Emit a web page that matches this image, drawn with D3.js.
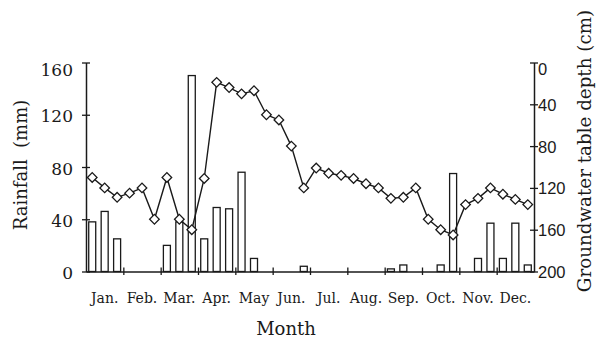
<!DOCTYPE html>
<html>
<head>
<meta charset="utf-8">
<script src="https://cdn.jsdelivr.net/npm/d3@7"></script>
<style>
  html, body { margin: 0; padding: 0; background: #fff; }
  svg { display: block; }
</style>
</head>
<body>
<script>
// Ten-day (dekad) rainfall totals, mm — three per month
const rainfall = [
  38, 46, 25,   0, 0, 0,    20, 38, 150,  25, 49, 48,
  76, 10, 0,    0, 0, 4,    0, 0, 0,      0, 0, 0,
  2, 5, 0,      0, 5, 75,   0, 10, 37,    10, 37, 5
];
// Groundwater table depth below surface, cm — one reading per dekad
const depth = [
  110, 120, 129, 125, 120, 150, 110, 150, 160,
  111, 19, 24, 30, 27, 50, 55, 80, 120,
  101, 106, 108, 111, 116, 120, 130, 129, 120,
  150, 160, 165, 136, 130, 120, 126, 131, 136
];
const months = ["Jan.", "Feb.", "Mar.", "Apr.", "May", "Jun.",
                "Jul.", "Aug.", "Sep.", "Oct.", "Nov.", "Dec."];
const rainTicks = [0, 40, 80, 120, 160];
const depthTicks = [0, 40, 80, 120, 160, 200];

const W = 599, H = 343;
const plotL = 86, plotR = 534, plotT = 62.5, plotB = 271.5;

const svg = d3.select("body").append("svg")
  .attr("width", W).attr("height", H);

const x = d3.scaleLinear().domain([0, rainfall.length]).range([plotL, plotR]);
const yRain = d3.scaleLinear().domain([0, 160]).range([plotB, plotT]);
const yDepth = d3.scaleLinear().domain([0, 200]).range([plotT, plotB]);

const serif = "'DejaVu Serif', serif";
const sans = "'Liberation Sans', Arial, sans-serif";
const ink = "#1a1a1a";

// rainfall bars
const barW = 7;
svg.append("g").selectAll("rect")
  .data(rainfall.map((v, i) => ({ v, i })).filter(d => d.v > 0))
  .join("rect")
  .attr("x", d => x(d.i + 0.5) - barW / 2)
  .attr("y", d => yRain(d.v))
  .attr("width", barW)
  .attr("height", d => yRain(0) - yRain(d.v))
  .attr("fill", "#fff")
  .attr("stroke", ink)
  .attr("stroke-width", 1.3);

// left axis (rainfall)
const gL = svg.append("g")
  .attr("transform", `translate(${plotL},0)`)
  .call(d3.axisLeft(yRain).tickValues(rainTicks).tickSizeOuter(0).tickPadding(0));
gL.select(".domain").attr("stroke", ink).attr("stroke-width", 1.5);
gL.selectAll(".tick line").attr("x1", 4).attr("x2", -4)
  .attr("stroke", ink).attr("stroke-width", 1.3);
gL.selectAll(".tick text")
  .attr("x", -13)
  .attr("dy", d => d === 160 ? "0.75em" : "0.42em")
  .attr("font-family", serif).attr("font-size", 17).attr("fill", ink);

// right axis (groundwater depth)
const gR = svg.append("g")
  .attr("transform", `translate(${plotR},0)`)
  .call(d3.axisRight(yDepth).tickValues(depthTicks).tickSizeOuter(0).tickPadding(0));
gR.select(".domain").attr("stroke", ink).attr("stroke-width", 1.5);
gR.selectAll(".tick line").attr("x1", -4).attr("x2", 4)
  .attr("stroke", ink).attr("stroke-width", 1.3);
gR.selectAll(".tick text")
  .attr("x", 4)
  .attr("dy", d => d === 0 ? "0.72em" : "0.36em")
  .attr("font-family", sans).attr("font-size", 16.5).attr("fill", ink);

// bottom axis with month separators
const monthEdges = d3.range(1, 12).map(k => k * 3);
const gB = svg.append("g")
  .attr("transform", `translate(0,${plotB})`)
  .call(d3.axisBottom(x).tickValues(monthEdges).tickFormat("").tickSizeOuter(0));
gB.select(".domain").attr("stroke", ink).attr("stroke-width", 1.5);
gB.selectAll(".tick line").attr("y1", -4).attr("y2", 3.5)
  .attr("stroke", ink).attr("stroke-width", 1.3);

svg.append("g").selectAll("text")
  .data(months)
  .join("text")
  .attr("x", (d, k) => x(k * 3 + 1.5))
  .attr("y", 303)
  .attr("text-anchor", "middle")
  .attr("font-family", serif).attr("font-size", 14).attr("fill", ink)
  .text(d => d);

// groundwater depth line with diamond markers
const line = d3.line()
  .x((d, i) => x(i + 0.5))
  .y(d => yDepth(d));
svg.append("path")
  .datum(depth)
  .attr("d", line)
  .attr("fill", "none")
  .attr("stroke", ink)
  .attr("stroke-width", 1.4);

const diamond = d3.symbol().type(d3.symbolSquare).size(46);
svg.append("g").selectAll("path")
  .data(depth)
  .join("path")
  .attr("d", diamond)
  .attr("transform", (d, i) => `translate(${x(i + 0.5)},${yDepth(d)}) rotate(45)`)
  .attr("fill", "#fff")
  .attr("stroke", ink)
  .attr("stroke-width", 1.3);

// axis titles
svg.append("text")
  .attr("transform", `translate(27,${(plotT + plotB) / 2 - 2}) rotate(-90)`)
  .attr("text-anchor", "middle")
  .attr("font-family", serif).attr("font-size", 18).attr("fill", ink)
  .text("Rainfall\u00A0 (mm)");

svg.append("text")
  .attr("transform", `translate(591,151) rotate(-90)`)
  .attr("text-anchor", "middle")
  .attr("font-family", serif).attr("font-size", 18.3).attr("fill", ink)
  .text("Groundwater table depth (cm)");

svg.append("text")
  .attr("x", (plotL + plotR) / 2 - 24)
  .attr("y", 335)
  .attr("text-anchor", "middle")
  .attr("font-family", serif).attr("font-size", 18).attr("fill", ink)
  .text("Month");
</script>
</body>
</html>
